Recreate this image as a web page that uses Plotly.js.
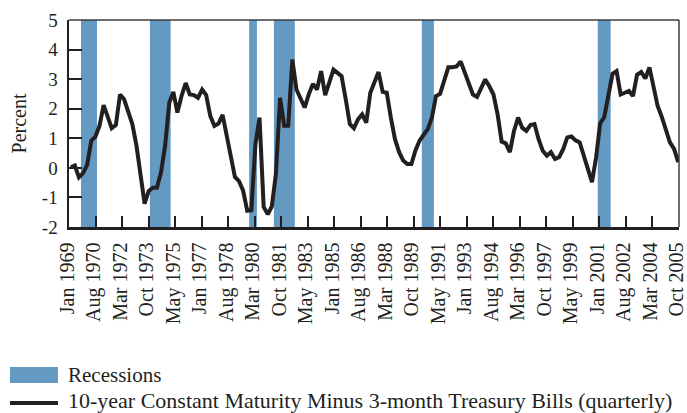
<!DOCTYPE html>
<html><head><meta charset="utf-8">
<script src="https://cdn.plot.ly/plotly-3.0.1.min.js"></script>
<style>html,body{margin:0;padding:0;background:#fff}#chart{width:687px;height:413px}</style>
</head><body><div id="chart"></div>
<script>
// Quarterly series, first quarter = 1969 Q1
const firstYear = 1969;
const spread = [
  0.02, 0.08, -0.32, -0.18,
  0.10, 0.92, 1.05, 1.42,
  2.12, 1.70, 1.34, 1.45,
  2.48, 2.32, 1.92, 1.48,
  0.75, -0.15, -1.21, -0.78,
  -0.67, -0.67, -0.15, 0.75,
  2.20, 2.57, 1.87, 2.43,
  2.87, 2.48, 2.46, 2.37,
  2.65, 2.46, 1.76, 1.42,
  1.50, 1.79, 1.14, 0.36,
  -0.31, -0.45, -0.76, -1.45,
  -1.43, 0.80, 1.70, -1.32,
  -1.57, -1.30, -0.20, 2.37,
  1.42, 1.42, 3.66, 2.65,
  2.32, 2.04, 2.48, 2.84,
  2.65, 3.27, 2.46, 2.93,
  3.32, 3.21, 3.10, 2.32,
  1.48, 1.34, 1.64, 1.81,
  1.53, 2.54, 2.87, 3.24,
  2.57, 2.54, 1.70, 0.97,
  0.53, 0.25, 0.13, 0.13,
  0.60, 0.92, 1.12, 1.31,
  1.70, 2.43, 2.50, 2.93,
  3.40, 3.40, 3.43, 3.60,
  3.21, 2.82, 2.48, 2.40,
  2.71, 2.99, 2.76, 2.48,
  1.81, 0.89, 0.83, 0.53,
  1.25, 1.70, 1.36, 1.25,
  1.45, 1.48, 0.97, 0.58,
  0.41, 0.53, 0.30, 0.36,
  0.64, 1.03, 1.06, 0.93,
  0.86, 0.41, -0.09, -0.48,
  0.36, 1.50, 1.72, 2.48,
  3.18, 3.27, 2.48, 2.54,
  2.60, 2.43, 3.15, 3.24,
  3.02, 3.40, 2.76, 2.09,
  1.72, 1.31, 0.86, 0.64,
  0.19
];
const recStart = ['1969-08-15', '1973-10-27', '1979-11-13', '1981-05-17', '1990-05-21', '2001-02-06'];
const recEnd   = ['1970-08-06', '1975-01-31', '1980-05-04', '1982-08-25', '1991-02-13', '2001-11-21'];
const xTickText = ['Jan 1969','Aug 1970','Mar 1972','Oct 1973','May 1975','Jan 1977','Aug 1978','Mar 1980',
  'Oct 1981','May 1983','Jan 1985','Aug 1986','Mar 1988','Oct 1989','May 1991','Jan 1993','Aug 1994',
  'Mar 1996','Oct 1997','May 1999','Jan 2001','Aug 2002','Mar 2004','Oct 2005'];
const yTickVals = [-2, -1, 0, 1, 2, 3, 4, 5];
const yTickText = ['-2', '-1', '0', '1', '2', '3', '4', '5'];
const legendLabels = ['Recessions', '10-year Constant Maturity Minus 3-month Treasury Bills (quarterly)'];
const xRange = ['1968-11-22', '2006-01-19'];

const quarters = spread.map((_, i) => {
  const y = firstYear + Math.floor(i / 4);
  const m = (i % 4) * 3 + 1;
  return y + '-' + String(m).padStart(2, '0') + '-01';
});

// evenly spaced tick positions across the axis (last one nudged just inside the range)
const t0 = Date.parse(xRange[0] + 'T00:00:00Z'), t1 = Date.parse(xRange[1] + 'T00:00:00Z') - 6 * 3600e3;
const xTickVals = xTickText.map((_, k) => {
  const ms = t0 + (t1 - t0) * k / (xTickText.length - 1);
  return new Date(ms).toISOString().replace('T', ' ').slice(0, 19);
});

const RECESSION = '#6499c2';
const LINE = '#231f20';
const FONT = 'Liberation Serif, Times New Roman, serif';

const shapes = recStart.map((s, k) => ({
  type: 'rect', xref: 'x', yref: 'paper', x0: s, x1: recEnd[k], y0: 0, y1: 1,
  fillcolor: RECESSION, line: {width: 0}, layer: 'below'
}));
// frame top & right
shapes.push({type: 'line', xref: 'paper', yref: 'paper', x0: 0, x1: 1, y0: 1, y1: 1, line: {color: '#3c3c3c', width: 1.5}});
shapes.push({type: 'line', xref: 'paper', yref: 'paper', x0: 1, x1: 1, y0: 0, y1: 1, line: {color: '#3c3c3c', width: 1.5}});

// manual legend (pixel -> paper)
const plotL = 69, plotW = 610, plotB = 227, plotH = 207;
const px = X => (X - plotL) / plotW;
const py = Y => (plotB - Y) / plotH;
shapes.push({type: 'rect', xref: 'paper', yref: 'paper', x0: px(10), x1: px(58), y0: py(383), y1: py(367),
  fillcolor: RECESSION, line: {width: 0}});
shapes.push({type: 'line', xref: 'paper', yref: 'paper', x0: px(10), x1: px(58), y0: py(403), y1: py(403),
  line: {color: LINE, width: 4}});

const annotations = [
  {text: legendLabels[0], xref: 'paper', yref: 'paper', x: px(66), y: py(375), xanchor: 'left', yanchor: 'middle',
   showarrow: false, font: {family: FONT, size: 21, color: '#231f20'}},
  {text: legendLabels[1], xref: 'paper', yref: 'paper', x: px(66), y: py(400), xanchor: 'left', yanchor: 'middle',
   showarrow: false, font: {family: FONT, size: 22, color: '#231f20'}}
];

const traces = [{
  type: 'scatter', mode: 'lines', x: quarters, y: spread, name: legendLabels[1],
  line: {color: LINE, width: 4}, showlegend: false, hoverinfo: 'x+y'
}];

const layout = {
  width: 687, height: 413,
  margin: {l: 69, r: 8, t: 20, b: 186},
  paper_bgcolor: '#fff', plot_bgcolor: '#fff',
  showlegend: false,
  font: {family: FONT, color: '#231f20'},
  xaxis: {
    type: 'date', range: xRange, tickmode: 'array', tickvals: xTickVals, ticktext: xTickText,
    tickangle: -90, ticks: 'inside', ticklen: 11, tickwidth: 2, tickcolor: LINE,
    showline: true, linecolor: LINE, linewidth: 2.5, showgrid: false, zeroline: false,
    tickfont: {family: FONT, size: 20, color: '#231f20'}, ticklabelstandoff: 5, ticklabelshift: -2,
    ticklabeloverflow: 'allow', fixedrange: true
  },
  yaxis: {
    range: [-2, 5], tickmode: 'array', tickvals: yTickVals, ticktext: yTickText,
    ticks: 'inside', ticklen: 13, tickwidth: 2, tickcolor: LINE,
    showline: true, linecolor: LINE, linewidth: 2.5, showgrid: false, zeroline: false,
    tickfont: {family: FONT, size: 19, color: '#231f20'}, ticklabelstandoff: 5,
    title: {text: 'Percent', font: {family: FONT, size: 20, color: '#231f20'}, standoff: 10},
    fixedrange: true
  },
  shapes: shapes,
  annotations: annotations
};

Plotly.newPlot('chart', traces, layout, {displayModeBar: false, staticPlot: true});
</script>
</body></html>
